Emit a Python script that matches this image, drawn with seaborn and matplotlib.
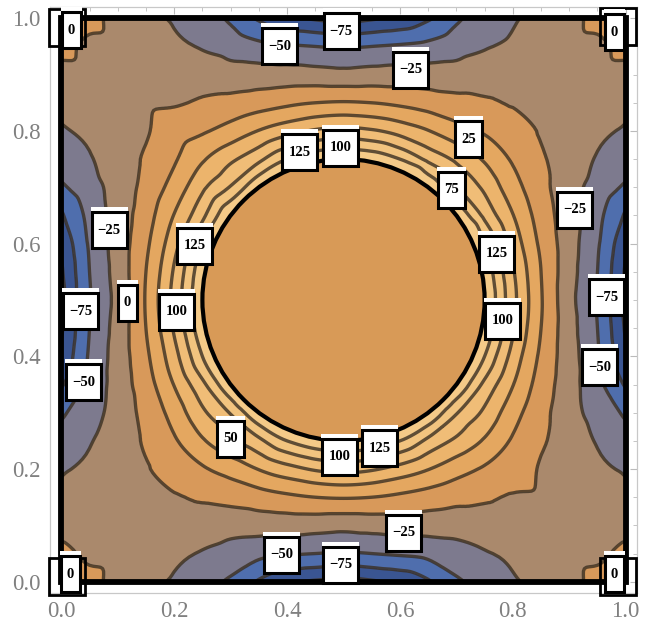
import numpy as np
import matplotlib
matplotlib.use("Agg")
import matplotlib.pyplot as plt
import matplotlib.tri as mtri
from matplotlib.patches import Circle, Rectangle
import seaborn as sns

# Field values on the lower-left quadrant grid (x, y in 0..0.5, step 0.05);
# the square is symmetric, so the other three quadrants are its mirror images.
quad_x = [0.0, 0.05, 0.10, 0.15, 0.20, 0.25, 0.30, 0.35, 0.40, 0.45, 0.50]
row_y000 = [-3, 10, -12, -20, -27, -38, -54, -78, -95, -103, -108]
row_y005 = [10, -8, -10, -15, -21, -27, -35, -43, -47, -50, -52]
row_y010 = [-12, -10, -8, -8, -7, -10, -15, -14, -14, -15, -17]
row_y015 = [-20, -15, -8, -3, -2, 3, 8, 14, 20, 25, 27]
row_y020 = [-27, -21, -7, -2, 14, 22, 35, 51, 66, 78, 83]
row_y025 = [-38, -27, -10, 3, 22, 47, 70, 94, 125, 143, 150]
row_y030 = [-54, -35, -15, 8, 35, 70, 102, 150, 200, 200, 200]
row_y035 = [-78, -43, -14, 14, 51, 94, 150, 200, 200, 200, 200]
row_y040 = [-95, -47, -14, 20, 66, 125, 200, 200, 200, 200, 200]
row_y045 = [-103, -50, -15, 25, 78, 143, 200, 200, 200, 200, 200]
row_y050 = [-108, -52, -17, 27, 83, 150, 200, 200, 200, 200, 200]

# contour levels
levels = [-100, -75, -50, -25, 0, 25, 50, 75, 100, 125]

# inner boundary (circle) and outer boundary (unit square)
circle_center = (0.5, 0.5)
circle_radius = 0.25

# contour label placements: (x, y, level)
label_specs = [
    (0.387, 0.950, -50), (0.496, 0.977, -75), (0.619, 0.909, -25),
    (0.422, 0.762, 125), (0.495, 0.770, 100), (0.722, 0.785, 25),
    (0.691, 0.696, 75), (0.910, 0.660, -25), (0.085, 0.624, -25),
    (0.236, 0.596, 125), (0.034, 0.480, -75), (0.117, 0.495, 0),
    (0.204, 0.479, 100), (0.039, 0.354, -50), (0.771, 0.582, 125),
    (0.782, 0.463, 100), (0.966, 0.505, -75), (0.954, 0.381, -50),
    (0.300, 0.254, 50), (0.493, 0.222, 100), (0.564, 0.237, 125),
    (0.606, 0.087, -25), (0.390, 0.048, -50), (0.495, 0.030, -75),
    (0.018, 0.979, 0), (0.016, 0.013, 0), (0.980, 0.975, 0), (0.980, 0.013, 0),
]
corner_frames = [(-0.021, 0.950), (-0.021, -0.023), (0.955, 0.952), (0.955, -0.023)]

sns.set_theme(style="white")
plt.rcParams['font.family'] = ['Liberation Serif', 'DejaVu Serif']

band_colors = sns.color_palette([
    "#2b3f74", "#3a5592", "#4f6ead", "#7d7a8e", "#aa896c", "#d8995a",
    "#e4a760", "#ecb46c", "#f0bd77", "#f2c47f", "#f4ca88",
])
disk_color = "#d89a57"

# assemble the full grid by mirroring the quadrant
quad = np.array([row_y000, row_y005, row_y010, row_y015, row_y020, row_y025,
                 row_y030, row_y035, row_y040, row_y045, row_y050], dtype=float)
full = np.block([[quad, quad[:, -2::-1]],
                 [quad[-2::-1, :], quad[-2::-1, -2::-1]]])
qx = np.array(quad_x)
coords = np.round(np.concatenate([qx, 1.0 - qx[-2::-1]]), 6)
X, Y = np.meshgrid(coords, coords)

tri = mtri.Triangulation(X.ravel(), Y.ravel())
refiner = mtri.UniformTriRefiner(tri)
interp = mtri.CubicTriInterpolator(tri, full.ravel(), kind="geom")
tri_f, z_f = refiner.refine_field(full.ravel(), triinterpolator=interp, subdiv=3)

fig = plt.figure(figsize=(6.54, 6.34), dpi=100)
ax = fig.add_axes([50 / 654, 41 / 634, 587 / 654, 586 / 634])

fill_levels = [-400] + levels + [400]
ax.tricontourf(tri_f, z_f, levels=fill_levels, colors=band_colors, zorder=1)
ax.tricontour(tri_f, z_f, levels=levels, colors="#3a2f22", linewidths=2.4,
              linestyles="solid", alpha=0.8, zorder=2)

ax.add_patch(Circle(circle_center, circle_radius, facecolor=disk_color,
                    edgecolor="none", zorder=3))
ax.add_patch(Circle(circle_center, circle_radius, facecolor="none",
                    edgecolor="black", lw=3.0, zorder=4))
ax.add_patch(Rectangle((0, 0), 1, 1, facecolor="none", edgecolor="black",
                       lw=4.2, zorder=5))

# label boxes
upx = 1.04 / 587  # data units per pixel in x
upy = 1.04 / 586  # data units per pixel in y
for fx, fy in corner_frames:
    ax.add_patch(Rectangle((fx, fy), 36 * upx, 37 * upy, facecolor="none",
                           edgecolor="black", lw=2.0, zorder=6, clip_on=False))
for lx, ly, lev in label_specs:
    txt = str(lev).replace("-", "\u2212")
    w = {1: 19, 2: 27, 3: 35}[len(txt)] * upx
    h = 36 * upy
    ax.add_patch(Rectangle((lx - w / 2 - 1 * upx, ly + h / 2), w + 2 * upx, 5 * upy,
                           facecolor="white", edgecolor="none", zorder=7,
                           clip_on=False))
    ax.add_patch(Rectangle((lx - w / 2, ly - h / 2), w, h, facecolor="white",
                           edgecolor="black", lw=2.2, zorder=7, clip_on=False))
    ax.text(lx, ly, txt, ha="center", va="center", fontsize=10.5,
            fontweight="bold", color="black", zorder=8, clip_on=False)

ax.set_xlim(-0.02, 1.02)
ax.set_ylim(-0.02, 1.02)
ticks = [0.0, 0.2, 0.4, 0.6, 0.8, 1.0]
ax.set_xticks(ticks)
ax.set_yticks(ticks)
ax.set_xticklabels([f"{t:.1f}" for t in ticks])
ax.set_yticklabels([f"{t:.1f}" for t in ticks])
ax.set_xticks(np.arange(0, 1.0001, 0.05), minor=True)
ax.set_yticks(np.arange(0, 1.0001, 0.05), minor=True)
ax.tick_params(which="both", direction="in", top=True, right=True,
               color="#bbbbbb", labelcolor="#808080", labelsize=16.5)
ax.tick_params(which="major", length=5, width=0.8)
ax.tick_params(which="minor", length=3, width=0.6)
ax.tick_params(axis="x", pad=6)
ax.tick_params(axis="y", pad=7)
for s in ax.spines.values():
    s.set_color("#c8c8c8")
    s.set_linewidth(0.9)

fig.savefig("out.png", dpi=100)
